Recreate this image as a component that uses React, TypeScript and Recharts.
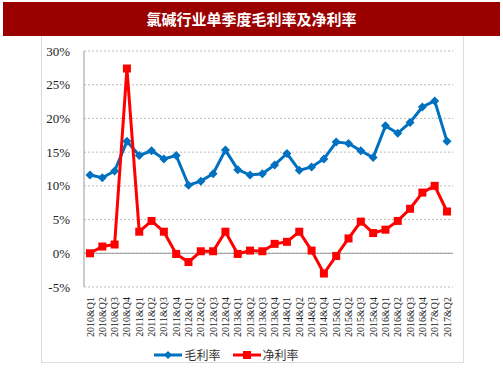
import { LineChart, Line, XAxis, YAxis, CartesianGrid, ReferenceLine, Legend } from 'recharts'

const quarters = [
  '2010&Q1', '2010&Q2', '2010&Q3', '2010&Q4',
  '2011&Q1', '2011&Q2', '2011&Q3', '2011&Q4',
  '2012&Q1', '2012&Q2', '2012&Q3', '2012&Q4',
  '2013&Q1', '2013&Q2', '2013&Q3', '2013&Q4',
  '2014&Q1', '2014&Q2', '2014&Q3', '2014&Q4',
  '2015&Q1', '2015&Q2', '2015&Q3', '2015&Q4',
  '2016&Q1', '2016&Q2', '2016&Q3', '2016&Q4',
  '2017&Q1', '2017&Q2',
]

const grossMargin = [
  11.6, 11.2, 12.2, 16.6, 14.5, 15.2, 14.0, 14.5,
  10.1, 10.7, 11.8, 15.3, 12.4, 11.6, 11.8, 13.1,
  14.8, 12.3, 12.8, 14.0, 16.5, 16.3, 15.2, 14.2,
  18.9, 17.8, 19.4, 21.7, 22.6, 16.6,
]

const netMargin = [
  0.0, 1.0, 1.3, 27.4, 3.2, 4.8, 3.2, -0.1,
  -1.3, 0.3, 0.3, 3.2, -0.1, 0.4, 0.3, 1.4,
  1.7, 3.2, 0.4, -3.0, -0.4, 2.2, 4.7, 3.0,
  3.5, 4.8, 6.6, 9.0, 10.0, 6.2,
]

const yTicks = [-5, 0, 5, 10, 15, 20, 25, 30]

const BLUE = '#0070c0'
const RED = '#ff0000'
const SERIF = '"Liberation Serif", "Times New Roman", serif'
const CJK = '"Noto Sans CJK SC", sans-serif'

const data = quarters.map((q, i) => ({ q, gross: grossMargin[i], net: netMargin[i] }))

function Diamond(props: any) {
  const { cx, cy } = props
  if (cx == null || cy == null) return null
  const r = 4.5
  return (
    <polygon
      points={`${cx},${cy - r} ${cx + r},${cy} ${cx},${cy + r} ${cx - r},${cy}`}
      fill={BLUE}
    />
  )
}

function Square(props: any) {
  const { cx, cy } = props
  if (cx == null || cy == null) return null
  const s = 8
  return <rect x={cx - s / 2} y={cy - s / 2} width={s} height={s} fill={RED} />
}

function QuarterTick(props: any) {
  const { x, y, payload } = props
  return (
    <text
      x={x}
      y={y}
      transform={`rotate(-90 ${x} ${y})`}
      textAnchor="end"
      dominantBaseline="central"
      fontFamily={SERIF}
      fontSize={10}
      fill="#222"
    >
      {payload.value}
    </text>
  )
}

function LegendContent() {
  const item = (color: string, label: string, square: boolean) => (
    <span style={{ display: 'inline-flex', alignItems: 'center', margin: '0 6px' }}>
      <svg width={28} height={10}>
        <line x1={0} y1={5} x2={28} y2={5} stroke={color} strokeWidth={3} />
        {square
          ? <rect x={10} y={1} width={8} height={8} fill={color} />
          : <polygon points="14,1 18,5 14,9 10,5" fill={color} />}
      </svg>
      <span style={{ fontFamily: CJK, fontSize: 12, color: '#333', marginLeft: 2 }}>{label}</span>
    </span>
  )
  return (
    <div style={{ textAlign: 'center', lineHeight: '14px' }}>
      {item(BLUE, '毛利率', false)}
      {item(RED, '净利率', true)}
    </div>
  )
}

export default function App() {
  return (
    <div style={{ position: 'absolute', left: 0, top: 0, width: 503, height: 378, background: '#fff' }}>
      <div
        style={{
          position: 'absolute', left: 3, top: 2, width: 497, height: 34,
          background: '#9b0000', color: '#fff', fontFamily: CJK, fontWeight: 'bold',
          fontSize: 15, lineHeight: '34px', textAlign: 'center',
        }}
      >
        氯碱行业单季度毛利率及净利率
      </div>
      <div
        style={{
          position: 'absolute', left: 41, top: 36, width: 421, height: 326,
          borderLeft: '1px solid #ddd', borderRight: '1px solid #ddd', borderBottom: '1px solid #ddd',
        }}
      />
      <div style={{ position: 'absolute', left: 0, top: 0 }}>
        <LineChart width={503} height={378} data={data} margin={{ top: 51, right: 50, left: 0, bottom: 25 }}>
          <CartesianGrid vertical={false} stroke="#bbb" strokeDasharray="2 2" />
          <XAxis
            dataKey="q"
            interval={0}
            tick={<QuarterTick />}
            tickLine={false}
            axisLine={false}
            height={52}
            tickMargin={4}
            padding={{ left: 6, right: 6 }}
          />
          <YAxis
            domain={[-5, 30]}
            ticks={yTicks}
            tickFormatter={(v) => `${v}%`}
            tick={{ fontFamily: SERIF, fontSize: 13, fill: '#222' }}
            axisLine={{ stroke: '#999' }}
            tickLine={false}
            tickMargin={8}
            width={84}
          />
          <ReferenceLine y={0} stroke="#999" strokeWidth={1} />
          <Legend verticalAlign="bottom" content={<LegendContent />} wrapperStyle={{ bottom: 16 }} />
          <Line
            type="linear"
            dataKey="gross"
            stroke={BLUE}
            strokeWidth={3}
            dot={<Diamond />}
            activeDot={false}
            isAnimationActive={false}
          />
          <Line
            type="linear"
            dataKey="net"
            stroke={RED}
            strokeWidth={3}
            dot={<Square />}
            activeDot={false}
            isAnimationActive={false}
          />
        </LineChart>
      </div>
    </div>
  )
}
